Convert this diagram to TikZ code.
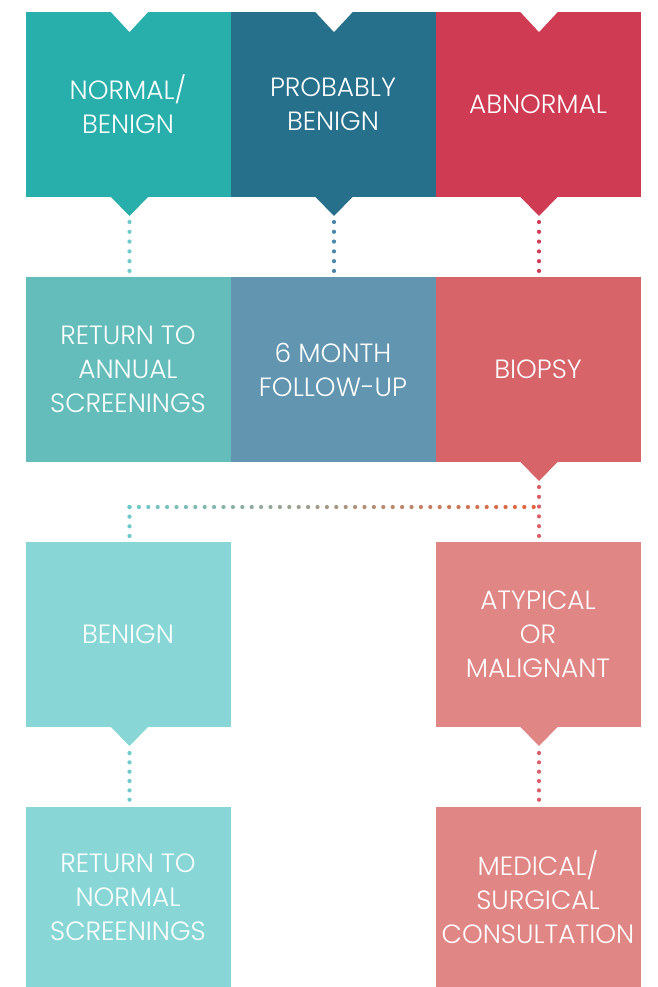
\documentclass[tikz,border=0pt]{standalone}
\usepackage{fontspec}
\IfFontExistsTF{Poppins Light}{\setmainfont{Poppins Light}}{\setmainfont{Poppins}}
\usetikzlibrary{calc}
\definecolor{cNB}{HTML}{29AFAB}
\definecolor{cPB}{HTML}{26708C}
\definecolor{cAB}{HTML}{CE3B52}
\definecolor{cRA}{HTML}{64BDBA}
\definecolor{cSM}{HTML}{6295AF}
\definecolor{cBI}{HTML}{D66468}
\definecolor{cBE}{HTML}{88D7D6}
\definecolor{cAM}{HTML}{E08685}
\definecolor{dTeal}{HTML}{6FCBCB}
\definecolor{dBlue}{HTML}{4B87A6}
\definecolor{dRed}{HTML}{D03C55}
\definecolor{dRed2}{HTML}{D9606A}
\definecolor{gStart}{HTML}{6CCACA}
\definecolor{gEnd}{HTML}{E0643A}
\begin{document}
\begin{tikzpicture}[x=1pt,y=-1pt,
  box/.style={rectangle, inner sep=0pt, minimum width=205pt, minimum height=185pt,
    text=white, align=center, font=\fontsize{26.4}{34}\selectfont},
  dotline/.style={line width=4.2pt, line cap=round, dash pattern=on 0pt off #1pt},
  pics/notch/.style={code={\fill[white] (-19.5,-1) -- (19.5,-1) -- (0,20) -- cycle;}},
  pics/ptr/.style={code={\fill[#1] (-19,-0.5) -- (19,-0.5) -- (0,19) -- cycle;}}]
\useasboundingbox (0,0) rectangle (657,987);
\fill[white] (0,0) rectangle (657,987);

% row 1
\node[box, fill=cNB] (nb) at (128,104.5) {NORMAL/\\BENIGN};
\node[box, fill=cPB] (pb) at (333,104.5) {PROBABLY\\BENIGN};
\node[box, fill=cAB] (ab) at (538,104.5) {ABNORMAL};
\pic at (129.5,12) {notch};
\pic at (334,12) {notch};
\pic at (539,12) {notch};
\pic at (129.5,197) {ptr=cNB};
\pic at (334,197) {ptr=cPB};
\pic at (539,197) {ptr=cAB};
\coordinate (tNB) at (129.5,216);
\coordinate (tPB) at (334,216);
\coordinate (tAB) at (539,216);

% row 2
\node[box, fill=cRA] (ra) at (128,369.5) {RETURN TO\\ANNUAL\\SCREENINGS};
\node[box, fill=cSM] (sm) at (333,369.5) {6 MONTH\\FOLLOW-UP};
\node[box, fill=cBI] (bi) at (538,369.5) {BIOPSY};
\pic at (539,462) {ptr=cBI};
\coordinate (tBI) at (539,481);

% row 3
\node[box, fill=cBE] (be) at (128,634.5) {BENIGN};
\node[box, fill=cAM] (am) at (538,634.5) {ATYPICAL\\OR\\MALIGNANT};
\pic at (129.5,727) {ptr=cBE};
\pic at (539,727) {ptr=cAM};
\coordinate (tBE) at (129.5,746);
\coordinate (tAM) at (539,746);

% row 4
\node[box, fill=cBE, minimum height=180pt] (rn) at (128,897) {RETURN TO\\NORMAL\\SCREENINGS};
\node[box, fill=cAM, minimum height=180pt] (mc) at (538,897) {MEDICAL/\\SURGICAL\\CONSULTATION};

% connectors row 1 -> row 2
\draw[dotline=9.79, draw=dTeal] ($(tNB)+(0,6)$) -- ($(tNB |- ra.north)+(0,-3)$);
\draw[dotline=9.79, draw=dBlue] ($(tPB)+(0,6)$) -- ($(tPB |- sm.north)+(0,-3)$);
\draw[dotline=9.79, draw=dRed] ($(tAB)+(0,6)$) -- ($(tAB |- bi.north)+(0,-3)$);

% biopsy -> split
\coordinate (jR) at (539.5,507);
\coordinate (jL) at (129.5,507);
\draw[dotline=9.79, draw=dRed2] ($(tBI)+(0,6)$) -- ($(tBI |- am.north)+(0,-3)$);
\foreach \i in {0,...,43}{
  \pgfmathsetmacro\p{100*\i/43}
  \fill[gEnd!\p!gStart] ($(jL)+(\i*9.4,0)$) circle (2.1pt);
}
\draw[dotline=9.66, draw=gStart] (jL) -- ($(jL |- be.north)+(0,-3)$);

% row 3 -> row 4
\draw[dotline=9.34, draw=dTeal] ($(tBE)+(0,7)$) -- ($(tBE |- rn.north)+(0,-4)$);
\draw[dotline=9.34, draw=dRed2] ($(tAM)+(0,7)$) -- ($(tAM |- mc.north)+(0,-4)$);
\end{tikzpicture}
\end{document}
